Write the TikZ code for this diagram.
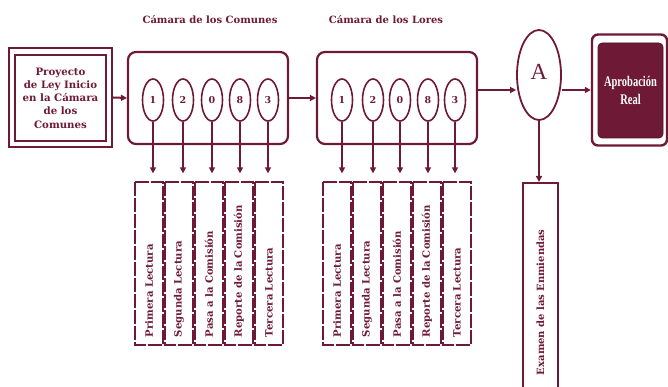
\documentclass[tikz,border=0pt]{standalone}
\usepackage{fontspec}
\setmainfont{DejaVu Serif}
\newfontfamily\libserif{Liberation Serif}
\usetikzlibrary{arrows.meta,shapes.geometric}
\definecolor{mar}{HTML}{6E1A36}
\begin{document}
\begin{tikzpicture}[x=1pt,y=-1pt,
  every node/.style={text=mar},
  arr/.style={draw=mar,line width=2pt,-{Triangle[length=6pt,width=6pt]}},
  house/.style={draw=mar,line width=2.2pt,rounded corners=8pt,minimum width=160pt,minimum height=92pt,inner sep=0pt},
  ttl/.style={font=\fontsize{10}{12}\selectfont\bfseries},
  num/.style={ellipse,draw=mar,line width=1.6pt,minimum width=21pt,minimum height=42pt,inner sep=0pt,font=\fontsize{9.5}{10}\selectfont\bfseries},
  dbox/.style={draw=mar,line width=1.3pt,dash pattern=on 14pt off 2pt,rotate=90,minimum width=163pt,minimum height=28pt,
    text width=147pt,inner xsep=8pt,inner ysep=0pt,align=left,font=\fontsize{10.1}{10}\selectfont\bfseries},
]
\useasboundingbox (0,0) rectangle (668,387);
\clip (0,0) rectangle (668,387);

% titles
\node[ttl] (t1) at (210,20) {Cámara de los Comunes};
\node[ttl] (t2) at (386,20) {Cámara de los Lores};

% proyecto
\node[draw=mar,line width=2.4pt,minimum width=103pt,minimum height=99pt,inner sep=0pt] (proj) at (60.5,97.5) {};
\node[draw=mar,line width=1.3pt,minimum width=91pt,minimum height=86pt,inner sep=0pt,align=center,
  font=\fontsize{10.2}{13.3}\selectfont\bfseries] (projin) at (60.5,98) {Proyecto\\de Ley Inicio\\en la Cámara\\de los\\Comunes};

% houses
\node[house] (com) at (208,98) {};
\node[house] (lor) at (397,98) {};

% ellipses
\foreach \i/\x/\t in {1/153/1,2/183/2,3/212/0,4/240/8,5/268/3}{
  \node[num] (c\i) at (\x,100) {\t};
}
\foreach \i/\x/\t in {1/342/1,2/373/2,3/400/0,4/428/8,5/455/3}{
  \node[num] (l\i) at (\x,100) {\t};
}

% dashed boxes
\foreach \i/\x/\t in {1/149/Primera Lectura,2/179/Segunda Lectura,3/209/Pasa a la Comisión,4/239/Reporte de la Comisión,5/269/Tercera Lectura}{
  \node[dbox] (dc\i) at (\x,263.5) {\t};
}
\foreach \i/\x/\t in {1/337/Primera Lectura,2/367/Segunda Lectura,3/397/Pasa a la Comisión,4/427/Reporte de la Comisión,5/457/Tercera Lectura}{
  \node[dbox] (dl\i) at (\x,263.5) {\t};
}

% A ellipse
\node[ellipse,draw=mar,line width=1.8pt,minimum width=44pt,minimum height=90pt,inner sep=0pt] (A) at (539,75) {};
\node[font=\libserif\fontsize{23}{24}\selectfont] (Atxt) at (539,72) {A};

% Aprobacion
\node[draw=mar,line width=2.4pt,rounded corners=6pt,minimum width=75pt,minimum height=111pt,inner sep=0pt] (apr) at (629.5,90) {};
\node[draw=mar!70!black,fill=mar,line width=0.6pt,rounded corners=4pt,minimum width=65pt,minimum height=95pt,inner sep=0pt,
  text=white,align=center,font=\libserif\fontsize{10.5}{11}\selectfont\bfseries] (aprin) at (630.5,90.5)
  {\scalebox{1}[1.4]{Aprobación}\\[3pt]\scalebox{1}[1.4]{Real}};

% Examen
\node[draw=mar,line width=2pt,rotate=90,minimum width=220pt,minimum height=35pt,text width=164pt,inner xsep=28pt,inner ysep=0pt,
  align=left,font=\fontsize{10}{11}\selectfont\bfseries] (ex) at (540.5,293) {Examen de las Enmiendas};

% connectors
\draw[arr] (proj.east) -- (com.west);
\draw[arr] (com.east) -- (lor.west);
\draw[arr] ([yshift=8pt]lor.east) -- ([yshift=-15pt]A.west);
\draw[arr] ([yshift=-15pt]A.east) -- (apr.west);
\draw[arr] (A.south) -- (A.south |- ex.east);
\foreach \i in {1,...,5}{
  \draw[arr,shorten >=8pt] (c\i.south) -- (c\i.south |- dc\i.east);
  \draw[arr,shorten >=8pt] (l\i.south) -- (l\i.south |- dl\i.east);
}
\end{tikzpicture}
\end{document}
